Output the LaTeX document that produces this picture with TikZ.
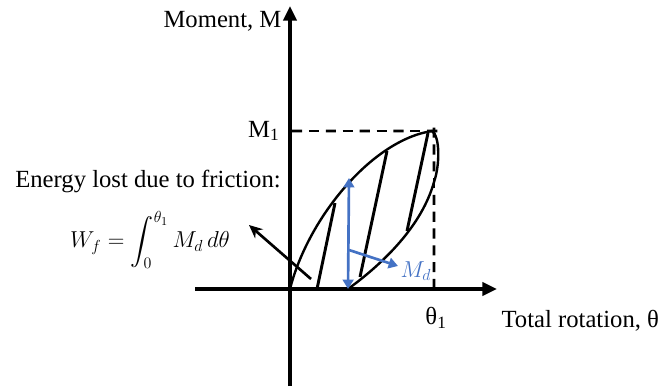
\documentclass[tikz,border=0pt]{standalone}
\usepackage{amsmath}
\usepackage{fontspec}
\setmainfont{Liberation Serif}
\usepackage{xcolor}
\usetikzlibrary{arrows.meta, positioning, calc}
\definecolor{myblue}{RGB}{68,114,196}

\tikzset{
  axisline/.style={line width=2.4pt, -{Triangle[length=11pt, width=10pt]}},
  hystloop/.style={line width=1.8pt},
  hatchline/.style={line width=2.2pt},
  dashseg/.style={line width=2.2pt},
  txt/.style={inner sep=1pt, font=\fontsize{18.5}{22}\selectfont},
}

\begin{document}
\begin{tikzpicture}[x=0.75pt, y=-0.75pt]
  \useasboundingbox (0,0) rectangle (659,386);
  % axes
  \coordinate (O) at (290,289);
  \coordinate (ybot) at (290,386);
  \coordinate (ytop) at (290,6);
  \coordinate (xleft) at (195,289);
  \coordinate (xright) at (497,289);
  \coordinate (T) at (432,131);
  \coordinate (th1) at (434,289);
  \coordinate (m1) at (292,131);
  \coordinate (c1) at (434,131);
  \draw[axisline] (ybot) -- (ytop);
  \draw[axisline] (xleft) -- (xright);
  % dashed guides
  \foreach \s in {0,...,8}
    \draw[dashseg] ($(m1)!{\s/8.4}!(c1)$) -- ($(m1)!{(\s+0.6)/8.4}!(c1)$);
  \foreach \s in {0,...,9}
    \draw[dashseg] ($(th1)!{\s/9.4}!(c1)$) -- ($(th1)!{(\s+0.6)/9.4}!(c1)$);
  % hysteresis loop
  \coordinate (B) at (348,289);
  \draw[hystloop] (O) .. controls (308,218) and (372,140) .. (T)
              .. controls (440,136) and (440,165) .. (434,182)
              .. controls (422,225) and (385,262) .. (B);
  % hatching
  \draw[hatchline] (317,289) -- (335,203);
  \draw[hatchline] (360,277) -- (387,151);
  \draw[hatchline] (407,231) -- (428,133);
  % M_d arrows
  \coordinate (Mtop) at (349,178);
  \coordinate (Mmid) at (349,250);
  \coordinate (Mtip) at (398,266);
  \draw[myblue, line width=2pt, {Triangle[length=7pt, width=8pt]}-{Triangle[length=7pt, width=8pt]}] (B) -- (Mtop);
  \draw[myblue, line width=2pt, -{Triangle[length=7pt, width=8pt]}] (Mmid) -- (Mtip);
  \node[txt, text=myblue, anchor=west] (md) at (399,271) {$M_d$};
  % texts
  \node[txt, anchor=east] (mom) at (283,21) {Moment, M};
  \node[txt, anchor=west] (rot) at (500,321) {Total rotation, θ};
  \node[txt, anchor=east] (M1) at (281,131) {M\textsubscript{1}};
  \node[txt] (T1) at (436,318) {θ\textsubscript{1}};
  \node[txt] (energy) at (148,181) {Energy lost due to friction:};
  \node[txt, inner sep=0pt] (wf) at (150,240) {$W_f = \displaystyle\int_0^{\theta_1} M_d\, d\theta$};
  \coordinate (pstart) at (311,279);
  \coordinate (ptip) at (249,225);
  \draw[line width=2pt, -{Stealth[length=10pt, width=9pt]}] (pstart) -- (ptip);
\end{tikzpicture}
\end{document}
